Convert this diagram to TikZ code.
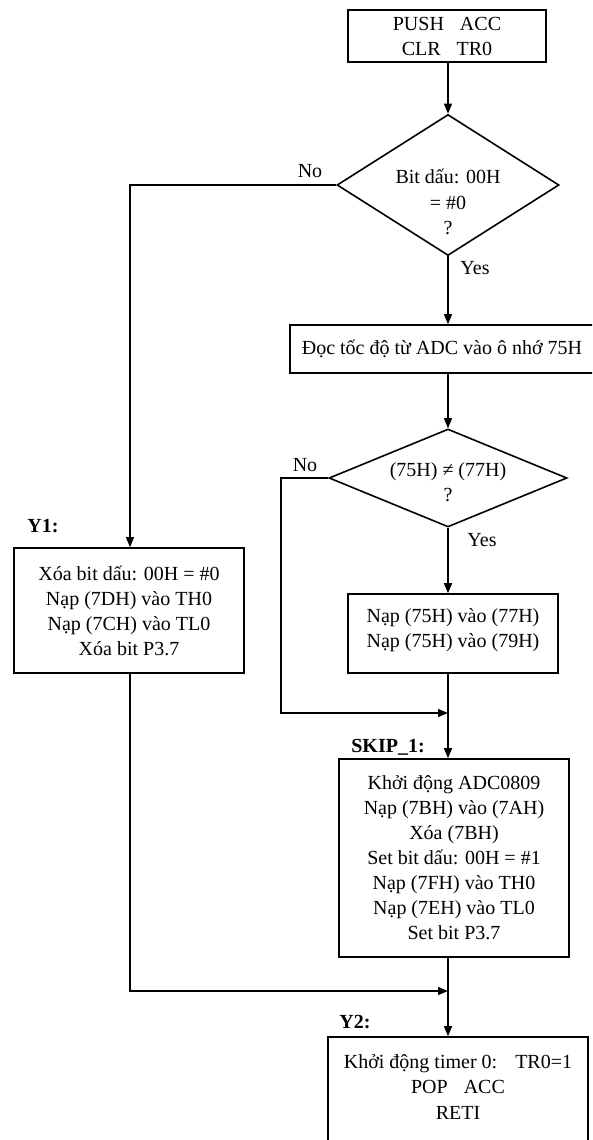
\documentclass[tikz,border=0pt]{standalone}
\usepackage{fontspec}
\setmainfont{Liberation Serif}
\usetikzlibrary{shapes.geometric,arrows.meta}
\begin{document}
\begin{tikzpicture}[x=1pt,y=-1pt,
  line width=1.3pt,
  proc/.style={draw, line width=1.6pt, align=center, inner sep=0pt,
    font=\fontsize{20}{25}\selectfont},
  dec/.style={draw, diamond, line width=1.6pt, inner sep=0pt},
  txt/.style={align=center, inner sep=0pt, font=\fontsize{20}{25.5}\selectfont},
  lbl/.style={inner sep=0pt, font=\fontsize{20}{25}\selectfont\bfseries},
  ans/.style={inner sep=0pt, font=\fontsize{20}{25}\selectfont},
  arr/.style={-{Triangle[length=10pt,width=8pt]}},
]
\useasboundingbox (0,0) rectangle (592,1140);
\clip (0,0) rectangle (592,1140);

% process boxes and decisions
\node[proc, minimum width=198pt, minimum height=52pt] (b1) at (447,36)
  {PUSH\hspace{0.8em}ACC\\CLR\hspace{0.8em}TR0};

\node[dec, minimum width=222pt, minimum height=141pt] (d1) at (448,185) {};
\node[txt] (t1) at (448,202) {Bit dấu: 00H\\= \#0\\?};

\node[proc, minimum width=304pt, minimum height=48pt] (rd) at (442,349)
  {Đọc tốc độ từ ADC vào ô nhớ 75H};

\node[dec, minimum width=238pt, minimum height=98pt] (d2) at (448,478) {};
\node[txt] (t2) at (448,482) {(75H) ≠ (77H)\\?};

\node[proc, minimum width=210pt, minimum height=79pt] (b75) at (453,633.5) {};
\node[txt] (t3) at (453,630) {Nạp (75H) vào (77H)\\Nạp (75H) vào (79H)};

\node[proc, minimum width=230pt, minimum height=125pt] (y1) at (129,610.5)
  {Xóa bit dấu: 00H = \#0\\Nạp (7DH) vào TH0\\Nạp (7CH) vào TL0\\Xóa bit P3.7};

\node[proc, minimum width=230pt, minimum height=198pt] (sk) at (454,858)
  {Khởi động ADC0809\\Nạp (7BH) vào (7AH)\\Xóa (7BH)\\Set bit dấu: 00H = \#1\\
   Nạp (7FH) vào TH0\\Nạp (7EH) vào TL0\\Set bit P3.7};

\node[proc, minimum width=260pt, minimum height=123pt] (y2) at (458,1098.5) {};
\node[txt] (t4) at (458,1087)
  {Khởi động timer 0:\hspace{0.9em}TR0=1\\POP\hspace{0.8em}ACC\\RETI};

% labels
\node[ans] (no1) at (310,171) {No};
\node[ans] (yes1) at (475,268) {Yes};
\node[ans] (no2) at (305,465) {No};
\node[ans] (yes2) at (482,540) {Yes};
\node[lbl] (ly1) at (43,526) {Y1:};
\node[lbl] (lsk) at (388,747) {SKIP\_1:};
\node[lbl] (ly2) at (355,1022) {Y2:};

% junction points
\coordinate (m1) at (448,713);
\coordinate (m2) at (448,991);
\coordinate (k1) at (281,713);
\coordinate (c1) at (130,0);

% main flow
\draw[arr] (d1.north |- b1.south) -- (d1.north);
\draw[arr] (d1.south) -- (d1.south |- rd.north);
\draw[arr] (d2.north |- rd.south) -- (d2.north);
\draw[arr] (d2.south) -- (d2.south |- b75.north);
\draw[arr] (d2.south |- b75.south) -- (d2.south |- sk.north);
\draw[arr] (d2.south |- sk.south) -- (d2.south |- y2.north);

% branches
\draw[arr] (d1.west) -| (c1 |- y1.north);
\draw[arr] (d2.west) -| (k1) -- (m1);
\draw[arr] (c1 |- y1.south) |- (m2);
\end{tikzpicture}
\end{document}
